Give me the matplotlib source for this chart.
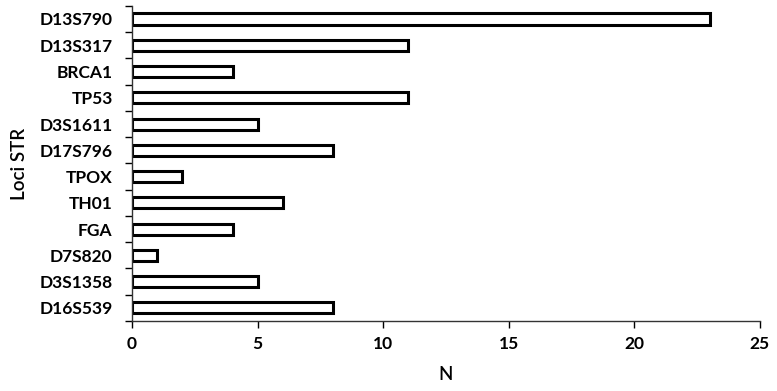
import numpy as np
import matplotlib
matplotlib.use("Agg")
import matplotlib.pyplot as plt
from matplotlib.ticker import FixedLocator

loci = ["D13S790", "D13S317", "BRCA1", "TP53", "D3S1611", "D17S796",
        "TPOX", "TH01", "FGA", "D7S820", "D3S1358", "D16S539"]
counts = [23, 11, 4, 11, 5, 8, 2, 6, 4, 1, 5, 8]

plt.rcParams['font.family'] = ['Lato', 'DejaVu Sans']

fig = plt.figure(figsize=(7.77, 3.91), dpi=100)
ax = fig.add_axes([0.170, 0.179, 0.808, 0.806])

# top category first
y = np.arange(len(loci))[::-1]
ax.barh(y, counts, height=0.42, color='white', edgecolor='black', linewidth=2.2)

ax.set_xlim(0, 25)
ax.set_ylim(-0.5, len(loci) - 0.5)
ax.set_xticks(range(0, 26, 5))
ax.set_yticks(y)
ax.set_yticklabels(loci, fontsize=12.5, fontweight='bold')
ax.yaxis.set_minor_locator(FixedLocator(np.arange(-0.5, len(loci), 1)))
ax.tick_params(axis='y', which='major', length=0, pad=14)
ax.tick_params(axis='y', which='minor', length=5, width=1, direction='out')
ax.tick_params(axis='x', length=5, width=1, labelsize=12.5, pad=6)
for lab in ax.get_xticklabels():
    lab.set_fontweight('bold')

for s in ['top', 'right']:
    ax.spines[s].set_visible(False)
for s in ['left', 'bottom']:
    ax.spines[s].set_linewidth(1)
    ax.spines[s].set_color('#333333')

ax.set_xlabel("N", fontsize=13.5, fontweight='semibold', labelpad=10)
ax.set_ylabel("Loci STR", fontsize=13.5, fontweight='semibold', labelpad=8)

fig.savefig("out.png", dpi=100)
